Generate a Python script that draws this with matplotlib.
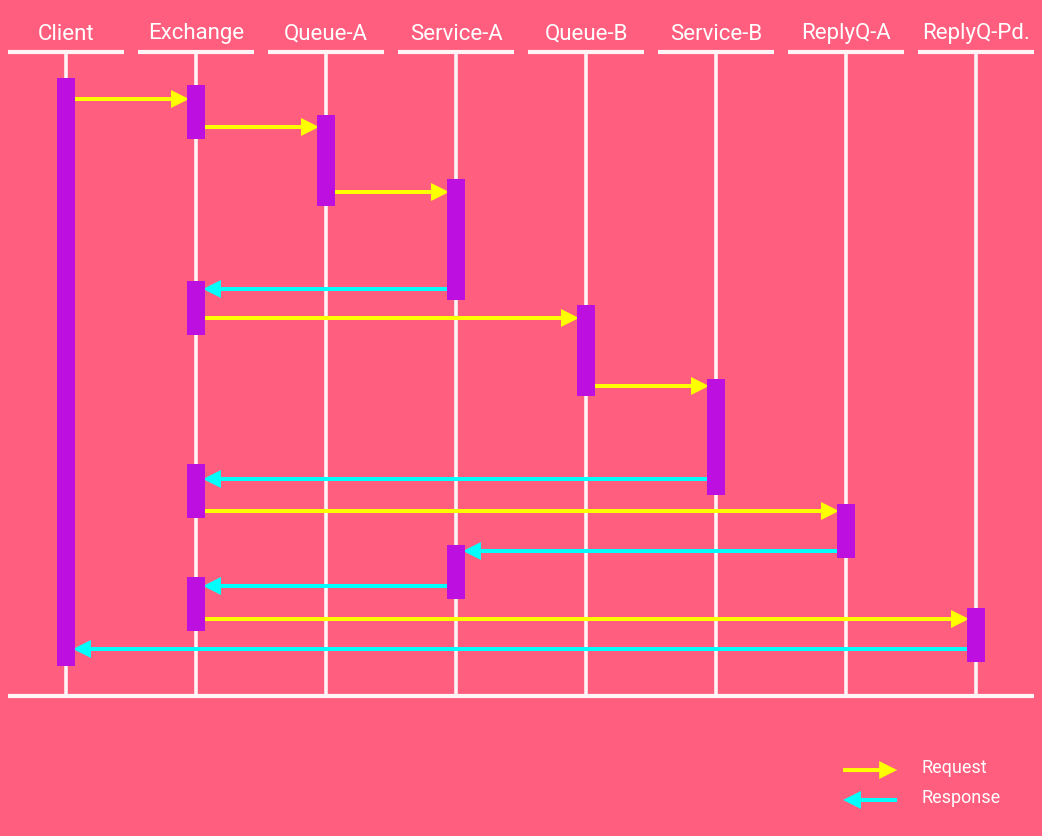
import matplotlib.pyplot as plt

plt.rcParams["font.family"] = ["Roboto", "DejaVu Sans"]

# participants (lanes) of the sequence diagram
participants = ["Client", "Exchange", "Queue-A", "Service-A",
                "Queue-B", "Service-B", "ReplyQ-A", "ReplyQ-Pd."]

# activation boxes: lane, start time, end time
act_lane = [0, 1, 2, 3, 1, 4, 5, 1, 6, 3, 1, 7]
act_start = [78, 85, 115, 179, 281, 305, 379, 464, 504, 545, 577, 608]
act_end = [666, 139, 206, 300, 335, 396, 495, 518, 558, 599, 631, 662]

# messages: source lane, target lane, time, kind
msg_src = [0, 1, 2, 3, 1, 4, 5, 1, 6, 3, 1, 7]
msg_dst = [1, 2, 3, 1, 4, 5, 1, 6, 3, 1, 7, 0]
msg_time = [99, 127, 192, 289, 318, 386, 479, 511, 551, 586, 619, 649]
msg_kind = ["Request", "Request", "Request", "Response", "Request", "Request",
            "Response", "Request", "Response", "Response", "Request", "Response"]

bg = "#FF5E7E"
purple = "#BD10E0"
colors = {"Request": "#FFFF00", "Response": "#00FFFF"}
line_col = "#FFF4F6"

fig = plt.figure(figsize=(10.42, 8.36), dpi=100, facecolor=bg)
ax = fig.add_axes([0, 0, 1, 1])
ax.set_facecolor(bg)
ax.set_xlim(-0.5077, 7.5077)
ax.set_ylim(836, 0)
ax.axis("off")

n = len(participants)
top, bottom = 52, 696
half_head = 0.446
box_w = 0.138
px = 1 / 130  # one pixel in lane units

# headers and lifelines
for i, name in enumerate(participants):
    ax.text(i, 39.5, name, ha="center", va="baseline", color="white", fontsize=16)
    ax.plot([i - half_head, i + half_head], [top, top], color=line_col, lw=3, solid_capstyle="butt", zorder=1)
ax.vlines(range(n), top, bottom, color=line_col, lw=2.6, zorder=1)
ax.plot([-half_head, n - 1 + half_head], [bottom, bottom], color=line_col, lw=3, solid_capstyle="butt", zorder=1)

# messages
for s, d, t, k in zip(msg_src, msg_dst, msg_time, msg_kind):
    sign = 1 if d > s else -1
    x0 = s + sign * box_w / 2
    x1 = d - sign * (box_w / 2 - 2 * px)
    ax.arrow(x0, t, x1 - x0, 0, width=4, head_width=18, head_length=18 * px,
             length_includes_head=True, color=colors[k], lw=0, zorder=2)

# activation boxes
heights = [e - s for s, e in zip(act_start, act_end)]
ax.bar(act_lane, heights, bottom=act_start, width=box_w, color=purple, zorder=3)

# legend
for k, y, ty in [("Request", 0.0789, 0.0754), ("Response", 0.0431, 0.0395)]:
    x0, x1 = (0.809, 0.861) if k == "Request" else (0.861, 0.809)
    ax.arrow(x0, y, x1 - x0, 0, width=4 / 836, head_width=18 / 836, head_length=18 / 1042,
             length_includes_head=True, color=colors[k], lw=0, transform=ax.transAxes)
    ax.text(0.884, ty, k, transform=ax.transAxes, color="white", fontsize=13,
            ha="left", va="baseline")

fig.savefig("out.png", dpi=100, facecolor=bg)
